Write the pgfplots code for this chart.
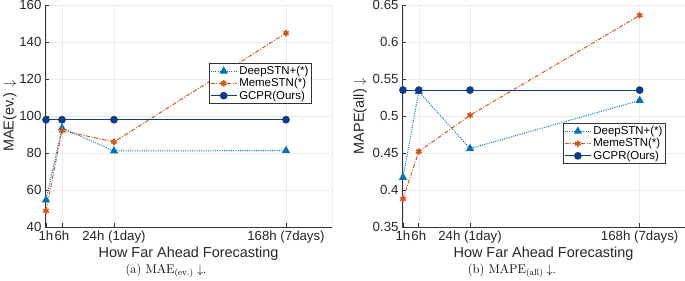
\documentclass[border=0pt]{standalone}
\usepackage{fontspec}
\usepackage{pgfplots}
\pgfplotsset{compat=1.18}
\newfontfamily\arial{Liberation Sans}
\definecolor{mblue}{rgb}{0,0.447,0.741}
\definecolor{morange}{rgb}{0.85,0.325,0.098}
\definecolor{mnavy}{rgb}{0.05,0.23,0.53}

\pgfplotstableread{
x deep meme gcpr
1 54.6 48.8 98
17 93.5 92.1 98
69 81.1 86.0 98
241 81.3 144.8 98
}\maedata
\pgfplotstableread{
x deep meme gcpr
1 0.417 0.388 0.535
17 0.533 0.452 0.535
69 0.456 0.501 0.535
241 0.521 0.636 0.535
}\mapedata

\pgfplotsset{mystyle/.style={
  scale only axis, height=222bp,
  xmin=0, xmax=287,
  xtick={1,17,69,241}, xticklabels={1h,6h,24h (1day),168h (7days)},
  extra x ticks={287}, extra x tick labels={},
  extra x tick style={major tick length=0pt, grid=major},
  axis x line*=bottom, axis y line*=left,
  grid=major, grid style={black!8, line width=0.5pt},
  tick align=inside, major tick length=4bp,
  axis line style={black!80, line width=0.6pt},
  tick style={black!80, line width=0.6pt},
  tick label style={font=\arial\fontsize{13.3}{14}\selectfont, text=black!85},
  /pgf/number format/assume math mode=true,
  label style={font=\arial\fontsize{14.5}{15}\selectfont, text=black!85},
  xlabel={How Far Ahead Forecasting},
  xlabel style={at={(axis description cs:0.5,-0.12)}, anchor=center},
  legend cell align=left,
  legend style={font=\arial\fontsize{11.5}{11.5}\selectfont, draw=black!80, line width=0.6pt,
     fill=white, inner sep=1pt, row sep=-1.5pt, anchor=north west},
  legend image code/.code={\draw[mark repeat=2,mark phase=2,#1] plot coordinates {(0bp,0bp) (13bp,0bp) (26bp,0bp)};},
  deep/.style={color=mblue, line width=1pt, dash pattern=on 1pt off 1.3pt, mark=triangle*, mark size=3.8pt, mark options={solid}},
  meme/.style={color=morange, line width=1pt, dash pattern=on 4pt off 1.6pt on 1pt off 1.6pt, mark=asterisk, mark size=3.2pt, mark options={solid, line width=1.6pt}},
  gcpr/.style={color=mnavy, line width=1.1pt, solid, mark=*, mark size=3.3pt},
}}

\begin{document}
\begin{tikzpicture}[x=1bp,y=1bp]
\useasboundingbox (0,0) rectangle (685,280);
\begin{axis}[mystyle, at={(45bp,53bp)}, anchor=south west, width=287bp,
  ymin=40, ymax=160, ytick={40,60,...,160},
  ylabel={MAE(ev.) $\downarrow$},
  ylabel style={at={(axis description cs:-0.122,0.5)}, anchor=center},
  legend style={at={(axis description cs:0.571,0.739)}}]
\addplot[deep] table[x=x,y=deep] {\maedata};
\addplot[meme] table[x=x,y=meme] {\maedata};
\addplot[gcpr] table[x=x,y=gcpr] {\maedata};
\legend{DeepSTN+(*),MemeSTN(*),GCPR(Ours)}
\end{axis}
\begin{axis}[mystyle, at={(402bp,53bp)}, anchor=south west, width=283bp,
  ymin=0.35, ymax=0.65, ytick={0.35,0.4,...,0.66},
  yticklabel style={/pgf/number format/fixed, /pgf/number format/precision=2},
  ylabel={MAPE(all) $\downarrow$},
  ylabel style={at={(axis description cs:-0.148,0.5)}, anchor=center},
  legend style={at={(axis description cs:0.569,0.468)}}]
\addplot[deep] table[x=x,y=deep] {\mapedata};
\addplot[meme] table[x=x,y=meme] {\mapedata};
\addplot[gcpr] table[x=x,y=gcpr] {\mapedata};
\legend{DeepSTN+(*),MemeSTN(*),GCPR(Ours)}
\end{axis}
\node[font=\fontsize{12.7}{13}\selectfont] at (166,9) {(a) $\mathrm{MAE}_{(\mathrm{ev.})}\downarrow$.};
\node[font=\fontsize{12.7}{13}\selectfont] at (512,9) {(b) $\mathrm{MAPE}_{(\mathrm{all})}\downarrow$.};
\end{tikzpicture}
\end{document}
